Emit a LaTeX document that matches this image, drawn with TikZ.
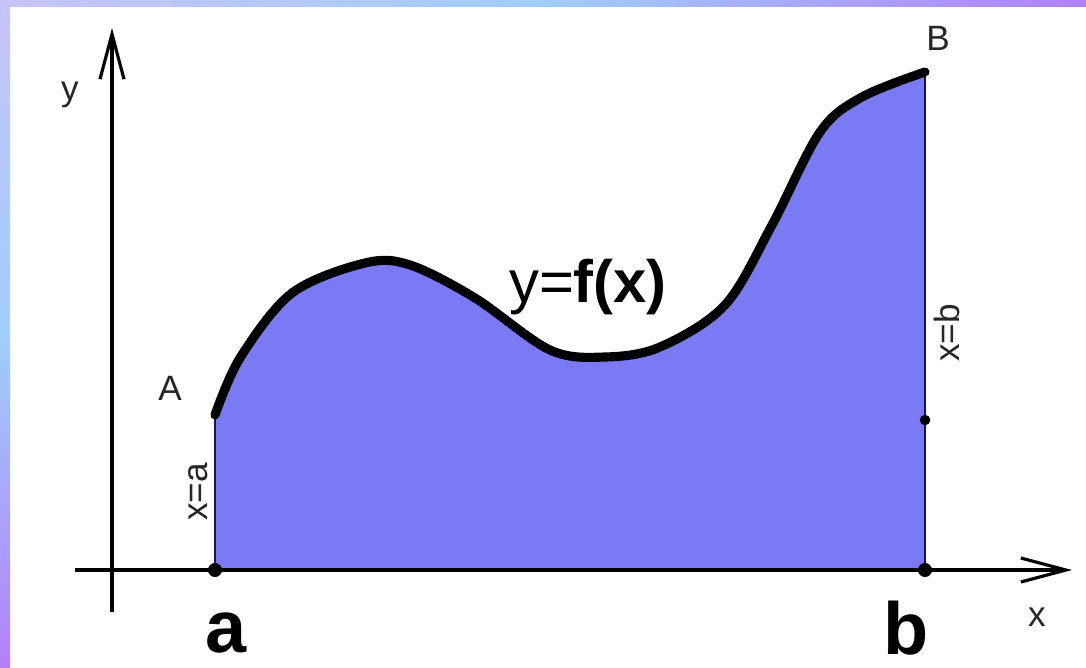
\documentclass[tikz,border=0pt]{standalone}
\usepackage{fontspec}
\setmainfont{Liberation Sans}
\usetikzlibrary{arrows.meta,positioning}
\definecolor{AreaBlue}{RGB}{122,122,245}
\definecolor{EdgeNavy}{RGB}{20,20,90}
\definecolor{BandLilac}{RGB}{200,195,255}
\definecolor{BandSky}{RGB}{160,205,255}
\definecolor{BandViolet}{RGB}{178,128,250}

\begin{document}
\begin{tikzpicture}[x=0.01cm, y=-0.01cm,
    axis/.style={line width=0.9pt, -{Straight Barb[length=4.5mm, width=2.4mm]}},
    curve/.style={line width=2.6pt, line cap=round, line join=round},
    bound/.style={line width=0.8pt, EdgeNavy},
    dot/.style={circle, fill=black, inner sep=0pt, minimum size=4pt},
    tag/.style={font=\fontsize{10}{12}\selectfont, text=black!85, inner sep=1pt},
    ends/.style={font=\bfseries\fontsize{21}{24}\selectfont}
  ]
    \useasboundingbox (0,0) rectangle (1086,667);
    % frame bands
    \shade[left color=BandLilac, right color=BandViolet, middle color=BandSky] (0,0) rectangle (1086,7);
    \shade[top color=BandLilac, bottom color=BandViolet, middle color=BandSky] (0,0) rectangle (10,667);

    \coordinate (O) at (112,570);
    \coordinate (a) at (215,570);
    \coordinate (b) at (925,570);
    \coordinate (A) at (215,415);
    \coordinate (B) at (925,72);

    % area under the curve
    \fill[AreaBlue] (a) --
      plot[smooth, tension=0.55] coordinates {(215,415) (240,358) (292,293) (365,263) (410,265) (475,298) (550,350) (605,357) (660,347) (725,305) (772,225) (820,132) (862,97) (925,72)}
      -- (b) -- cycle;
    \draw[bound] (a) -- (A);
    \draw[bound] (b) -- (B);

    % axes
    \draw[axis] (75,570) -- (1072,570);
    \draw[axis] (112,612) -- (112,28);

    \draw[curve] plot[smooth, tension=0.55] coordinates {(215,415) (240,358) (292,293) (365,263) (410,265) (475,298) (550,350) (605,357) (660,347) (725,305) (772,225) (820,132) (862,97) (925,72)};

    \node[dot] (da) at (a) {};
    \node[dot] (db) at (b) {};
    \node[dot, minimum size=3pt] (dm) at (925,420) {};

    \node[tag] (ly) at (70,95) {y};
    \node[tag] (lx) at (1037,617) {x};
    \node[tag] (lA) at (170,388) {A};
    \node[tag] (lB) at (938,38) {B};
    \node[tag, rotate=90] (lxa) at (198,492) {x=a};
    \node[tag, rotate=90] (lxb) at (947,333) {x=b};
    \node[font=\fontsize{17}{20}\selectfont, inner sep=1pt] (fx) at (588,287) {y=\textbf{f(x)}};
    \node[ends] (la) at (226,633) {a};
    \node[ends] (lb) at (906,628) {b};
  \end{tikzpicture}
\end{document}
